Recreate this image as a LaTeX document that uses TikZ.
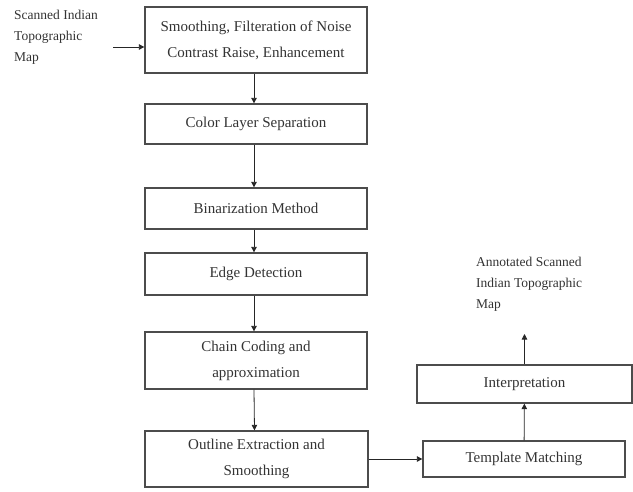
\documentclass[tikz,border=0pt]{standalone}
\usepackage{fontspec}
\setmainfont{Liberation Serif}
\usetikzlibrary{arrows.meta}
\begin{document}
\begin{tikzpicture}[x=1pt,y=-1pt,
  procbox/.style={draw=black!70,line width=1.3pt,rectangle,align=center,
    inner sep=0pt,minimum width=222pt,font=\fontsize{15}{26}\selectfont,text=black!80},
  plaintext/.style={align=left,inner sep=0pt,font=\fontsize{13.5}{21}\selectfont,text=black!80},
  flow/.style={draw=black!85,line width=0.8pt,-{Triangle[length=5.5pt,width=5.5pt]}}]
\useasboundingbox (0,0) rectangle (633,491);
\node[procbox,minimum height=66pt] (smooth) at (256,40) {Smoothing, Filteration of Noise\\Contrast Raise, Enhancement};
\node[procbox,minimum height=40pt] (color) at (256,124) {Color Layer Separation};
\node[procbox,minimum height=41pt] (bin) at (256,208.5) {Binarization Method};
\node[procbox,minimum height=42pt] (edge) at (256,274) {Edge Detection};
\node[procbox,minimum height=57pt] (chain) at (256,360.5) {Chain Coding and\\approximation};
\node[procbox,minimum height=56pt,minimum width=223pt] (outline) at (256.5,459) {Outline Extraction and\\Smoothing};
\node[procbox,minimum height=36pt,minimum width=202pt] (templ) at (524,459) {Template Matching};
\node[procbox,minimum height=38pt,minimum width=215pt] (interp) at (524.5,384) {Interpretation};
\node[plaintext,anchor=north west] (input) at (14,10) {Scanned Indian\\Topographic\\Map};
\node[plaintext,anchor=north west] (output) at (476,257) {Annotated Scanned\\Indian Topographic\\Map};
\coordinate (instart) at (113,47);
\coordinate (outend) at (524.5,334);
\draw[flow] (instart) -- (instart -| smooth.west);
\draw[flow] ([xshift=-2pt]smooth.south) -- ([xshift=-2pt]color.north);
\draw[flow] ([xshift=-2pt]color.south) -- ([xshift=-2pt]bin.north);
\draw[flow] ([xshift=-2pt]bin.south) -- ([xshift=-2pt]edge.north);
\draw[flow] ([xshift=-2pt]edge.south) -- ([xshift=-2pt]chain.north);
\draw[flow] ([xshift=-2pt]chain.south) -- ([xshift=-2pt]outline.north);
\draw[flow] (outline) -- (templ);
\draw[flow] (templ) -- (interp);
\draw[flow] (interp) -- (outend);
\end{tikzpicture}
\end{document}
